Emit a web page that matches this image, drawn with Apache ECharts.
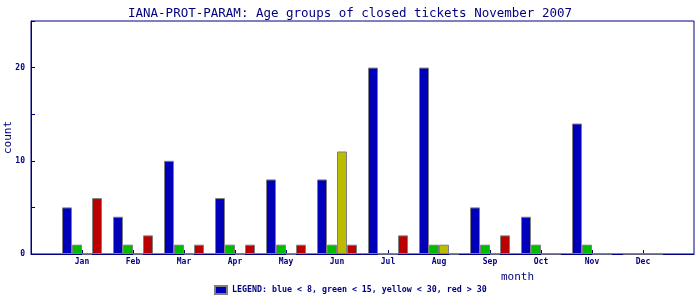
<!DOCTYPE html>
<html><head><meta charset="utf-8">
<script src="https://cdn.jsdelivr.net/npm/echarts@6/dist/echarts.min.js"></script>
<style>html,body{margin:0;padding:0;background:#fff}#c{width:700px;height:300px}</style>
</head><body><div id="c"></div>
<script>
const months = ['', 'Jan','Feb','Mar','Apr','May','Jun','Jul','Aug','Sep','Oct','Nov','Dec', ''];
const blue   = [null, 5, 4, 10, 6, 8, 8, 20, 20, 5, 4, 14, 0, null];
const green  = [null, 1, 1, 1, 1, 1, 1, 0, 1, 1, 1, 1, 0, null];
const yellow = [null, 0, 0, 0, 0, 0, 11, 0, 1, 0, 0, 0, 0, null];
const red    = [null, 6, 2, 1, 1, 1, 1, 2, 0, 2, 0, 0, 0, null];
const legendText = 'LEGEND: blue < 8, green < 15, yellow < 30, red > 30';

const navy = '#000080';
const font = 'DejaVu Sans Mono';
function bar(name, data, color) {
  return { name, type: 'bar', data, barWidth: 10, barGap: '0%', animation: false,
    itemStyle: { color, borderColor: '#808080', borderWidth: 1, borderRadius: 0 } };
}
const chart = echarts.init(document.getElementById('c'), null, { renderer: 'canvas' });
chart.setOption({
  animation: false,
  title: { text: 'IANA-PROT-PARAM: Age groups of closed tickets November 2007', left: 'center', top: 2,
    textStyle: { fontFamily: font, fontSize: 12.5, fontWeight: 'normal', color: navy } },
  legend: { data: [{ name: legendText, icon: 'rect' }], bottom: 0, left: 209, itemWidth: 12, itemHeight: 8, itemGap: 3,
    textStyle: { fontFamily: font, fontSize: 8.3, fontWeight: 'bold', color: navy } },
  grid: { left: 31, right: 6, top: 21, bottom: 46, show: true, borderColor: navy, borderWidth: 1,
    containLabel: false, outerBoundsMode: 'none' },
  xAxis: { type: 'category', data: months, boundaryGap: false,
    name: 'month', nameLocation: 'end', nameGap: 0,
    nameTextStyle: { fontFamily: font, fontSize: 11, color: navy, align: 'right', verticalAlign: 'top', padding: [18, 160, 0, 0] },
    axisLine: { lineStyle: { color: navy } },
    axisTick: { inside: true, length: 4, lineStyle: { color: navy }, interval: (i) => i > 0 && i < 13 },
    axisLabel: { fontFamily: font, fontSize: 8, fontWeight: 'bold', color: navy, margin: 4, interval: 0 },
    splitLine: { show: false } },
  yAxis: { type: 'value', min: 0, max: 25, interval: 5,
    name: 'count', nameLocation: 'middle', nameGap: 17, nameRotate: 90, nameMoveOverlap: false,
    nameTextStyle: { fontFamily: font, fontSize: 11, color: navy },
    axisLine: { show: true, lineStyle: { color: navy } },
    axisTick: { show: true, inside: true, length: 4, lineStyle: { color: navy } },
    axisLabel: { fontFamily: font, fontSize: 8, fontWeight: 'bold', color: navy, margin: 6,
      formatter: (v) => (v % 10 === 0 && v < 25) ? String(v) : '' },
    splitLine: { show: false } },
  series: [
    bar(legendText, blue, '#0000bb'),
    bar('green', green, '#00bb00'),
    bar('yellow', yellow, '#bbbb00'),
    bar('red', red, '#bb0000')
  ]
});
</script></body></html>
